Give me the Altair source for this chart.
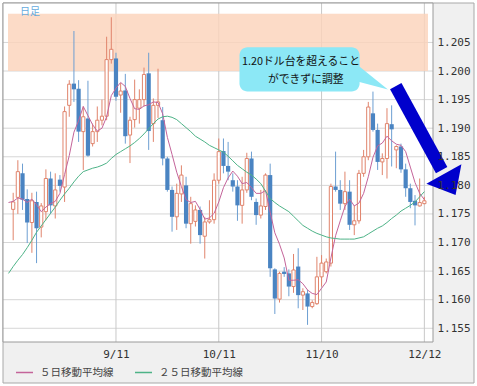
import altair as alt
import pandas as pd

# ---- data (daily candles, index 0 = first visible day) ----
opens = [1.1758, 1.1779, 1.1821, 1.1776, 1.1735, 1.1771, 1.1727, 1.1754, 1.1812, 1.1764,
         1.1810, 1.1797, 1.1940, 1.1978, 1.1969, 1.1894, 1.1917, 1.1873, 1.1894, 1.1914,
         1.1921, 1.2020, 1.2022, 1.1958, 1.1966, 1.1888, 1.1915, 1.1935, 1.1950, 1.1996,
         1.1908, 1.1940, 1.1914, 1.1847, 1.1792, 1.1745, 1.1785, 1.1800, 1.1733, 1.1737,
         1.1757, 1.1711, 1.1736, 1.1740, 1.1809, 1.1860, 1.1834, 1.1809, 1.1798, 1.1765,
         1.1792, 1.1847, 1.1771, 1.1748, 1.1763, 1.1818, 1.1653, 1.1601, 1.1649, 1.1646,
         1.1623, 1.1658, 1.1608, 1.1611, 1.1588, 1.1593, 1.1640, 1.1649, 1.1664, 1.1798,
         1.1792, 1.1768, 1.1789, 1.1731, 1.1738, 1.1821, 1.1850, 1.1926, 1.1897, 1.1841,
         1.1847, 1.1907, 1.1862, 1.1868, 1.1828, 1.1795, 1.1773, 1.1764, 1.1768]
highs = [1.1787, 1.1844, 1.1838, 1.1793, 1.1787, 1.1789, 1.1769, 1.1828, 1.1824, 1.1821,
         1.1818, 1.1938, 1.1984, 1.2070, 1.1984, 1.1938, 1.1983, 1.1908, 1.1938, 1.1950,
         1.2060, 1.2094, 1.2032, 1.1979, 1.1995, 1.1920, 1.1985, 1.1968, 1.2006, 1.2032,
         1.1952, 1.2004, 1.1937, 1.1850, 1.1798, 1.1803, 1.1835, 1.1815, 1.1780, 1.1765,
         1.1763, 1.1745, 1.1774, 1.1821, 1.1882, 1.1882, 1.1876, 1.1821, 1.1809, 1.1815,
         1.1857, 1.1859, 1.1777, 1.1792, 1.1821, 1.1838, 1.1655, 1.1649, 1.1657, 1.1653,
         1.1680, 1.1690, 1.1620, 1.1617, 1.1599, 1.1675, 1.1678, 1.1672, 1.1803, 1.1859,
         1.1809, 1.1824, 1.1809, 1.1765, 1.1827, 1.1862, 1.1946, 1.1964, 1.1908, 1.1856,
         1.1935, 1.1940, 1.1870, 1.1873, 1.1838, 1.1803, 1.1783, 1.1812, 1.1780]
lows = [1.1704, 1.1750, 1.1757, 1.1699, 1.1682, 1.1664, 1.1709, 1.1739, 1.1750, 1.1742,
        1.1789, 1.1771, 1.1920, 1.1946, 1.1876, 1.1827, 1.1850, 1.1868, 1.1876, 1.1905,
        1.1914, 1.2013, 1.1948, 1.1927, 1.1873, 1.1839, 1.1901, 1.1908, 1.1938, 1.1862,
        1.1876, 1.1918, 1.1835, 1.1789, 1.1719, 1.1722, 1.1771, 1.1725, 1.1698, 1.1728,
        1.1698, 1.1672, 1.1733, 1.1733, 1.1803, 1.1821, 1.1809, 1.1789, 1.1738, 1.1733,
        1.1787, 1.1774, 1.1731, 1.1742, 1.1757, 1.1640, 1.1575, 1.1595, 1.1640, 1.1606,
        1.1612, 1.1585, 1.1582, 1.1556, 1.1585, 1.1591, 1.1623, 1.1646, 1.1658, 1.1789,
        1.1757, 1.1757, 1.1722, 1.1713, 1.1733, 1.1815, 1.1844, 1.1894, 1.1827, 1.1818,
        1.1812, 1.1833, 1.1830, 1.1822, 1.1780, 1.1760, 1.1730, 1.1763, 1.1767]
closes = [1.1771, 1.1824, 1.1775, 1.1735, 1.1773, 1.1725, 1.1764, 1.1812, 1.1765, 1.1792,
          1.1799, 1.1929, 1.1977, 1.1968, 1.1894, 1.1920, 1.1852, 1.1894, 1.1914, 1.1921,
          1.2020, 1.2038, 1.1955, 1.1965, 1.1886, 1.1914, 1.1950, 1.1950, 1.1994, 1.1895,
          1.1940, 1.1946, 1.1847, 1.1792, 1.1745, 1.1786, 1.1818, 1.1733, 1.1768, 1.1757,
          1.1713, 1.1736, 1.1740, 1.1809, 1.1859, 1.1834, 1.1824, 1.1798, 1.1765, 1.1792,
          1.1847, 1.1780, 1.1748, 1.1764, 1.1818, 1.1655, 1.1602, 1.1646, 1.1645, 1.1623,
          1.1652, 1.1608, 1.1614, 1.1588, 1.1595, 1.1640, 1.1664, 1.1666, 1.1798, 1.1792,
          1.1768, 1.1789, 1.1731, 1.1738, 1.1821, 1.1850, 1.1937, 1.1897, 1.1841, 1.1847,
          1.1908, 1.1898, 1.1868, 1.1828, 1.1795, 1.1771, 1.1765, 1.1770, 1.1773]
# moving averages, read from index -1 (line enters at the left edge)
ma_start = -1
ma5 = [1.1770, 1.1772, 1.1778, 1.1776, 1.1770, 1.1776, 1.1766, 1.1754, 1.1762, 1.1768, 1.1772,
       1.1786, 1.1819, 1.1852, 1.1893, 1.1913, 1.1938, 1.1922, 1.1906, 1.1895, 1.1900,
       1.1920, 1.1957, 1.1970, 1.1980, 1.1973, 1.1952, 1.1934, 1.1933, 1.1939, 1.1941,
       1.1946, 1.1945, 1.1925, 1.1884, 1.1854, 1.1823, 1.1798, 1.1775, 1.1770, 1.1772,
       1.1758, 1.1741, 1.1743, 1.1751, 1.1771, 1.1796, 1.1813, 1.1825, 1.1816, 1.1803,
       1.1805, 1.1796, 1.1786, 1.1786, 1.1791, 1.1753, 1.1717, 1.1697, 1.1673, 1.1634,
       1.1634, 1.1635, 1.1628, 1.1617, 1.1611, 1.1609, 1.1620, 1.1631, 1.1673, 1.1712,
       1.1738, 1.1763, 1.1776, 1.1764, 1.1769, 1.1786, 1.1815, 1.1849, 1.1869, 1.1874,
       1.1886, 1.1878, 1.1872, 1.1870, 1.1859, 1.1832, 1.1805, 1.1786, 1.1775]
ma25 = [1.1646, 1.1658, 1.1669, 1.1679, 1.1691, 1.1704, 1.1718, 1.1729, 1.1740, 1.1751, 1.1762,
        1.1774, 1.1785, 1.1795, 1.1806, 1.1816, 1.1824, 1.1827, 1.1830, 1.1832, 1.1835,
        1.1839, 1.1847, 1.1854, 1.1859, 1.1864, 1.1869, 1.1875, 1.1882, 1.1890, 1.1899,
        1.1908, 1.1916, 1.1920, 1.1921, 1.1919, 1.1915, 1.1908, 1.1901, 1.1894, 1.1886,
        1.1881, 1.1876, 1.1870, 1.1866, 1.1862, 1.1858, 1.1851, 1.1843, 1.1835, 1.1829,
        1.1823, 1.1818, 1.1811, 1.1803, 1.1790, 1.1777, 1.1770, 1.1764, 1.1759, 1.1754,
        1.1746, 1.1738, 1.1730, 1.1725, 1.1720, 1.1716, 1.1713, 1.1710, 1.1708, 1.1707,
        1.1706, 1.1706, 1.1706, 1.1706, 1.1708, 1.1710, 1.1715, 1.1720, 1.1725, 1.1729,
        1.1735, 1.1742, 1.1748, 1.1755, 1.1760, 1.1765, 1.1771, 1.1780, 1.1789]

x_tick_idx = [22, 44, 66, 88]
x_tick_labels = ["9/11", "10/11", "11/10", "12/12"]
y_ticks = [1.155, 1.160, 1.165, 1.170, 1.175, 1.180, 1.185, 1.190, 1.195, 1.200, 1.205]
series_names = ["５日移動平均線", "２５日移動平均線"]
band_range = [1.200, 1.210]
callout_lines = ["1.20ドル台を超えること", "ができずに調整"]
corner_label = "日足"

# ---- styling ----
UP = "#e0846c"
DOWN = "#4a84c2"
DOWN_WICK = "#6d9fd2"
C5 = "#c4649a"
C25 = "#4db387"
CALLOUT = "#8ce8f6"
ARROW = "#0000cc"
HEAD_PATH = "M1,-0.88L-1,0.24L0.669,0.88Z"

XMIN, XMAX = -1.11, 88.78
YMIN, YMAX = 1.1526, 1.2119
xs = alt.Scale(domain=[XMIN, XMAX], nice=False, zero=False)
ys = alt.Scale(domain=[YMIN, YMAX], nice=False, zero=False)

label_expr = " : ".join(f"datum.value == {v} ? '{l}'" for v, l in zip(x_tick_idx, x_tick_labels)) + " : ''"
x_axis = alt.Axis(values=x_tick_idx, labelExpr=label_expr, grid=False, domain=False, ticks=False,
                  labelFont="DejaVu Sans Mono", labelFontSize=11, labelColor="#333333",
                  labelPadding=6, labelFlush=False, labelOverlap=False, title=None, zindex=1)
y_axis = alt.Axis(orient="right", values=y_ticks, format=".3f", grid=False, domain=False, ticks=False,
                  labelFont="DejaVu Sans Mono", labelFontSize=11, labelColor="#333333",
                  labelPadding=4, labelFlush=False, labelOverlap=False, title=None, zindex=1)


def X(f):
    return alt.X(f, type="quantitative", scale=xs, axis=x_axis)


def Y(f):
    return alt.Y(f, type="quantitative", scale=ys, axis=y_axis)


df = pd.DataFrame({"i": list(range(len(opens))), "open": opens, "high": highs,
                   "low": lows, "close": closes})
df["dir"] = ["up" if c >= o else "down" for o, c in zip(opens, closes)]

ma_df = pd.concat([
    pd.DataFrame({"i": list(range(ma_start, ma_start + len(ma5))), "v": ma5, "s": series_names[0]}),
    pd.DataFrame({"i": list(range(ma_start, ma_start + len(ma25))), "v": ma25, "s": series_names[1]}),
])

one = pd.DataFrame({"k": [0]})

frame = alt.Chart(one).mark_rect(fill="#f0f0f0", stroke="#a8a8a8", strokeWidth=1).encode(
    x=alt.value(0), x2=alt.value(471), y=alt.value(0), y2=alt.value(380))
plotbg = alt.Chart(one).mark_rect(fill="white").encode(
    x=alt.value(0), x2=alt.value(430), y=alt.value(0), y2=alt.value(339))

hgrid = alt.Chart(pd.DataFrame({"y": y_ticks})).mark_rule(color="#d6d6d6", strokeWidth=1).encode(y=Y("y"))
vgrid = alt.Chart(pd.DataFrame({"x": x_tick_idx})).mark_rule(color="#c8c8c8", strokeWidth=1).encode(x=X("x"))

band = alt.Chart(pd.DataFrame({"x1": [XMIN], "x2": [XMAX], "y1": [band_range[0]], "y2": [band_range[1]]})
                 ).mark_rect(fill="#fbd3bb", opacity=0.82).encode(
    x=X("x1"), x2=alt.X2("x2"), y=Y("y1"), y2=alt.Y2("y2"))

base = alt.Chart(df)
up_wick = base.transform_filter("datum.dir == 'up'").mark_rule(color=UP, strokeWidth=1).encode(
    x=X("i"), y=Y("low"), y2=alt.Y2("high"))
down_wick = base.transform_filter("datum.dir == 'down'").mark_rule(color=DOWN_WICK, strokeWidth=1).encode(
    x=X("i"), y=Y("low"), y2=alt.Y2("high"))
up_body = base.transform_filter("datum.dir == 'up'").mark_bar(
    size=3.2, fill="white", stroke=UP, strokeWidth=1).encode(x=X("i"), y=Y("open"), y2=alt.Y2("close"))
down_body = base.transform_filter("datum.dir == 'down'").mark_bar(
    size=4.2, color=DOWN).encode(x=X("i"), y=Y("open"), y2=alt.Y2("close"))

lines = alt.Chart(ma_df).mark_line(strokeWidth=1, clip=True).encode(
    x=X("i"), y=Y("v"),
    color=alt.Color("s:N", scale=alt.Scale(domain=series_names, range=[C5, C25]),
                    legend=alt.Legend(orient="none", legendX=12, legendY=360, direction="horizontal",
                                      title=None, symbolType="stroke", symbolSize=289,
                                      symbolStrokeWidth=1.5, labelFont="Noto Sans CJK JP",
                                      labelFontSize=10.5, labelColor="#444444", labelOffset=6,
                                      columnPadding=18, padding=0)),
    order=alt.Order("i:Q"))

border = alt.Chart(one).mark_rect(fill="white", fillOpacity=0, stroke="#9a9a9a", strokeWidth=1).encode(
    x=alt.value(0), x2=alt.value(430), y=alt.value(0), y2=alt.value(339))

# ---- annotation (data coordinates) ----
box = alt.Chart(pd.DataFrame({"x1": [48.43], "x2": [74.14], "y1": [1.20418], "y2": [1.19640]})
                ).mark_rect(fill=CALLOUT, cornerRadius=8).encode(
    x=X("x1"), x2=alt.X2("x2"), y=Y("y1"), y2=alt.Y2("y2"))
tail = alt.Chart(pd.DataFrame({"x": [73.5, 80.2], "y": [1.2012, 1.19675], "y2": [1.1982, 1.19675]})
                 ).mark_area(fill=CALLOUT).encode(x=X("x"), y=Y("y"), y2=alt.Y2("y2"))
txt = alt.Chart(pd.DataFrame({"x": [61.6, 62.6], "y": [1.20156, 1.19841], "t": callout_lines})
                ).mark_text(font="Noto Sans CJK JP", fontSize=10.8, color="#111111",
                            align="center", baseline="middle").encode(x=X("x"), y=Y("y"), text="t:N")
shaft = alt.Chart(pd.DataFrame({"x": [81.88], "y": [1.19736], "x2": [91.7], "y2": [1.18268]})
                  ).mark_rule(color=ARROW, strokeWidth=13, strokeCap="butt").encode(
    x=X("x"), y=Y("y"), x2=alt.X2("x2"), y2=alt.Y2("y2"))
head = alt.Chart(pd.DataFrame({"x": [92.18], "y": [1.18100]})).mark_point(
    shape=HEAD_PATH, size=1225, filled=True, color=ARROW, opacity=1, strokeWidth=0).encode(
    x=X("x"), y=Y("y"))
corner = alt.Chart(pd.DataFrame({"x": [3.6], "y": [1.21038], "t": [corner_label]})).mark_text(
    font="Noto Sans CJK JP", fontSize=10, color="#66aadd", align="center", baseline="middle").encode(
    x=X("x"), y=Y("y"), text="t:N")

chart = alt.layer(
    frame, plotbg, hgrid, vgrid, band, up_wick, down_wick, up_body, down_body, lines, border,
    box, tail, txt, shaft, head, corner
).properties(
    width=430, height=339,
    padding={"left": 3, "top": 3, "right": 44, "bottom": 44},
    autosize=alt.AutoSizeParams(type="none"),
    background="white",
).configure_view(stroke=None)

chart.save("out.html", embed_options={"renderer": "svg", "actions": False})
